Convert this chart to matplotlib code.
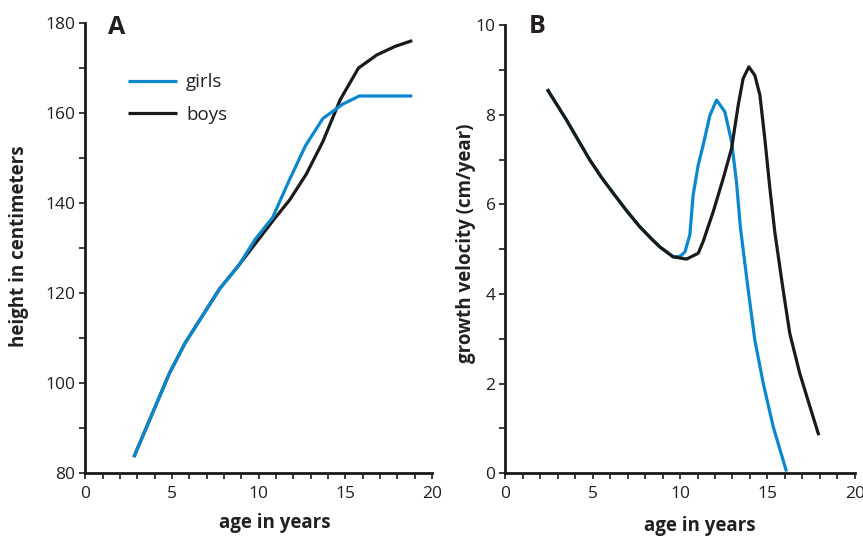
import matplotlib
matplotlib.use("Agg")
from matplotlib import pyplot as plt

# Panel A: height by age
girls_age = [2.8, 4.85, 5.75, 7.75, 8.85, 9.8, 10.8, 11.75, 12.7, 13.7, 14.85, 15.8, 18.85]
girls_height = [83.6, 102.2, 108.9, 121.0, 126.2, 132.0, 136.8, 145.0, 152.8, 158.8, 162.0, 163.8, 163.8]

boys_age = [2.8, 4.85, 5.75, 7.75, 8.85, 9.8, 10.8, 11.8, 12.75, 13.7, 14.7, 15.75, 16.8, 17.85, 18.85]
boys_height = [83.6, 102.2, 108.9, 121.0, 126.2, 131.0, 136.0, 140.8, 146.5, 153.7, 163.0, 170.0, 172.9, 174.8, 176.1]

# Panel B: growth velocity by age
boys_vel_age = [2.40, 3.51, 4.18, 4.84, 5.51, 6.18, 6.94, 7.70, 8.37, 8.85, 9.61, 10.37,
                11.04, 11.32, 11.90, 12.47, 12.95, 13.33, 13.61, 13.94, 14.28, 14.57,
                14.85, 15.14, 15.42, 15.90, 16.28, 16.85, 17.43, 17.94]
boys_vel = [8.57, 7.88, 7.43, 6.99, 6.60, 6.25, 5.86, 5.50, 5.23, 5.05, 4.83, 4.78,
            4.91, 5.17, 5.84, 6.58, 7.25, 8.22, 8.81, 9.07, 8.88, 8.44,
            7.47, 6.36, 5.39, 4.09, 3.12, 2.23, 1.49, 0.85]

girls_vel_age = [2.40, 3.51, 4.18, 4.84, 5.51, 6.18, 6.94, 7.70, 8.37, 8.85, 9.61, 10.0,
                 10.28, 10.56, 10.75, 11.04, 11.32, 11.71, 12.09, 12.56, 12.95, 13.23,
                 13.45, 13.90, 14.28, 14.76, 15.33, 16.09]
girls_vel = [8.57, 7.88, 7.43, 6.99, 6.60, 6.25, 5.86, 5.50, 5.23, 5.05, 4.83, 4.84,
             4.94, 5.32, 6.21, 6.88, 7.32, 7.99, 8.33, 8.07, 7.40, 6.50,
             5.50, 4.09, 2.97, 2.01, 1.04, 0.04]

BLUE = "#0a88cf"
BLACK = "#1a1a1a"
TEXT = "#231f20"
plt.rcParams["font.family"] = ["Open Sans", "DejaVu Sans"]

fig = plt.figure(figsize=(8.63, 5.36), dpi=100)
ax_a = fig.add_axes([0.0988, 0.117, 0.402, 0.840])
ax_b = fig.add_axes([0.5855, 0.117, 0.405, 0.836])


def style_axis(ax):
    for side in ("top", "right"):
        ax.spines[side].set_visible(False)
    for side in ("left", "bottom"):
        ax.spines[side].set_linewidth(2.0)
        ax.spines[side].set_color(BLACK)
    ax.tick_params(which="both", direction="out", length=4, width=1.2, color=BLACK,
                   labelsize=12.5, labelcolor=TEXT)
    ax.tick_params(axis="x", pad=5)
    ax.tick_params(axis="y", pad=3)
    ax.set_xlim(0, 20)
    ax.set_xticks(range(0, 21, 5))
    ax.set_xticks(range(0, 21), minor=True)


line_kw = dict(lw=2.3, solid_joinstyle="round", solid_capstyle="butt")

# --- A: height ---------------------------------------------------------------
ax_a.plot(girls_age, girls_height, color=BLUE, label="girls", zorder=3, **line_kw)
ax_a.plot(boys_age, boys_height, color=BLACK, label="boys", zorder=2, **line_kw)
style_axis(ax_a)
ax_a.set_ylim(80, 180)
ax_a.set_yticks(range(80, 181, 20))
ax_a.set_yticks(range(80, 181, 10), minor=True)
ax_a.set_xlabel("age in years", fontsize=13.5, fontweight="bold", color=TEXT)
ax_a.set_ylabel("height in centimeters", fontsize=13.5, fontweight="bold", color=TEXT)
ax_a.xaxis.set_label_coords(0.547, -0.088)
ax_a.yaxis.set_label_coords(-0.162, 0.505)
ax_a.text(0.091, 0.991, "A", transform=ax_a.transAxes, fontsize=18, fontweight="bold",
          ha="center", va="center", color=TEXT)
ax_a.legend(loc="upper left", bbox_to_anchor=(0.123, 0.888), frameon=False, fontsize=13.5,
            handlelength=2.6, handletextpad=0.5, labelspacing=0.75, borderpad=0,
            borderaxespad=0, labelcolor=TEXT)

# --- B: growth velocity ------------------------------------------------------
ax_b.plot(girls_vel_age, girls_vel, color=BLUE, zorder=2, **line_kw)
ax_b.plot(boys_vel_age, boys_vel, color=BLACK, zorder=3, **line_kw)
style_axis(ax_b)
ax_b.set_ylim(0, 10)
ax_b.set_yticks(range(0, 11, 2))
ax_b.set_yticks(range(0, 11), minor=True)
ax_b.set_xlabel("age in years", fontsize=13.5, fontweight="bold", color=TEXT)
ax_b.set_ylabel("growth velocity (cm/year)", fontsize=13.5, fontweight="bold", color=TEXT)
ax_b.xaxis.set_label_coords(0.557, -0.095)
ax_b.yaxis.set_label_coords(-0.084, 0.514)
ax_b.text(0.091, 0.996, "B", transform=ax_b.transAxes, fontsize=18, fontweight="bold",
          ha="center", va="center", color=TEXT)

fig.savefig("out.png", dpi=100)
